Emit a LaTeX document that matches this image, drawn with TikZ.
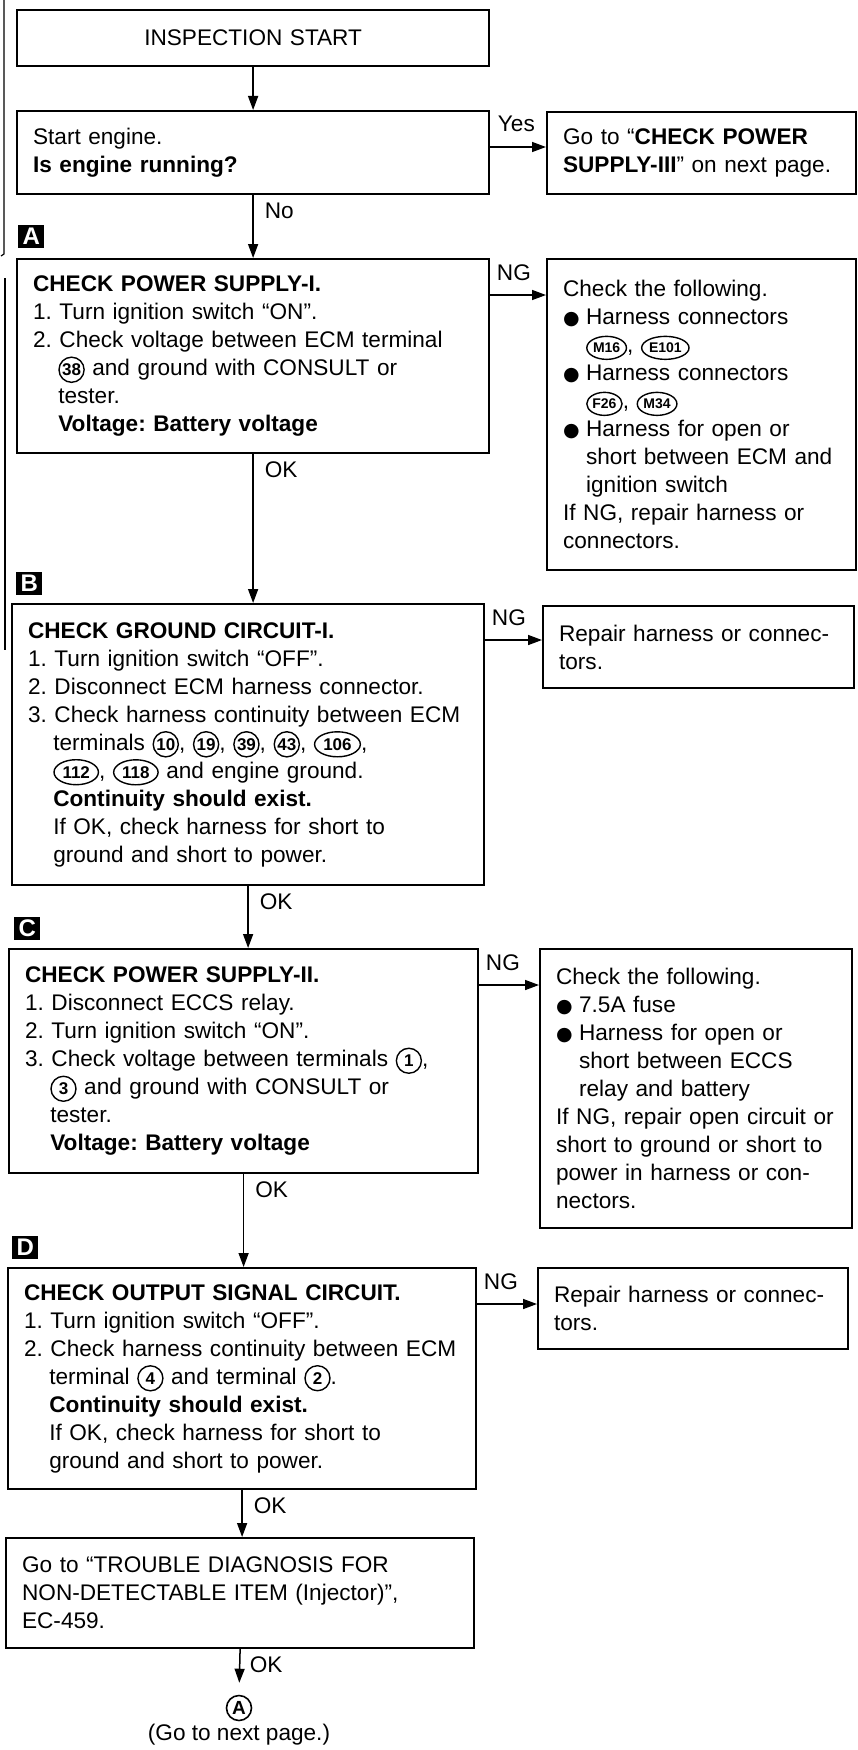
\documentclass[tikz,border=0pt]{standalone}
\usepackage{fontspec}
\setmainfont{Liberation Sans}
\newfontfamily\bulletfont{DejaVu Sans}
\usetikzlibrary{positioning,arrows.meta,shapes.geometric}

\tikzset{
    cnum/.style={circle, draw, line width=0.7pt, inner sep=0.5pt, minimum width=12.5pt, minimum height=12.5pt, text width=, align=center, fill=none, font=\fontsize{8.5}{8.5}\selectfont\bfseries},
    coval/.style={cnum, ellipse, inner xsep=1pt, inner ysep=0.5pt, minimum width=0pt, minimum height=12.5pt},
    cconn/.style={coval, inner xsep=0.2pt, minimum height=11.5pt, font=\fontsize{7}{7}\selectfont\bfseries}
}
\newcommand{\cn}[1]{\tikz[baseline=(c.base)]\node[cnum](c){#1};}
\newcommand{\co}[1]{\tikz[baseline=(c.base)]\node[coval](c){#1};}
\newcommand{\cc}[1]{\tikz[baseline=(c.base)]\node[cconn](c){#1};}
\newcommand{\hang}{\hspace*{12.6pt}}
\newcommand{\bhang}{\hspace*{11.5pt}}
\newcommand{\blt}{\makebox[11.5pt][l]{\bulletfont\fontsize{9.5}{9}\selectfont ●}}
\frenchspacing

\begin{document}
\begin{tikzpicture}[
    x=0.5pt, y=-0.5pt,
    box/.style={draw, line width=1.1pt, anchor=north west, inner xsep=8pt, inner ysep=0pt, align=left, font=\fontsize{11.3}{14}\selectfont},
    tag/.style={fill=black, text=white, anchor=south west, inner sep=0pt, minimum width=13pt, minimum height=11.5pt, font=\bfseries\fontsize{12}{12}\selectfont},
    arr/.style={-{Triangle[length=7pt,width=5pt]}, line width=0.75pt},
    lab/.style={inner sep=0pt, anchor=base west, font=\fontsize{11.3}{14}\selectfont},
    endmark/.style={circle, draw, line width=0.8pt, minimum size=12.5pt, inner sep=0pt, font=\bfseries\fontsize{9.5}{9.5}\selectfont}
]
\useasboundingbox (0,0) rectangle (857,1750);

% edge of the scanned page
\draw[line width=0.6pt] (4,0) -- (4,254) -- (1,256);
\draw[line width=0.6pt] (5,278) -- (5,650);

% main column
\node[box, align=center, minimum width=236pt, minimum height=28pt, text width=220pt] (start) at (16,9) {INSPECTION START};
\node[box, minimum width=236pt, minimum height=41.5pt, text width=220pt] (run) at (16,110) {Start engine.\\\textbf{Is engine running?}};
\node[box, minimum width=236pt, minimum height=97pt, text width=220pt] (chkA) at (16,258) {\textbf{CHECK POWER SUPPLY-I.}\\
1. Turn ignition switch “ON”.\\
2. Check voltage between ECM terminal\\
\hang\cn{38} and ground with CONSULT or\\
\hang tester.\\
\hang\textbf{Voltage: Battery voltage}};
\node[box, minimum width=236pt, minimum height=140.5pt, text width=220pt] (chkB) at (11,603) {\textbf{CHECK GROUND CIRCUIT-I.}\\
1. Turn ignition switch “OFF”.\\
2. Disconnect ECM harness connector.\\
3. Check harness continuity between ECM\\
\hang terminals \cn{10}, \cn{19}, \cn{39}, \cn{43}, \co{106},\\
\hang\co{112}, \co{118} and engine ground.\\
\hang\textbf{Continuity should exist.}\\
\hang If OK, check harness for short to\\
\hang ground and short to power.};
\node[box, minimum width=234.5pt, minimum height=112pt, text width=218.5pt] (chkC) at (8,948) {\textbf{CHECK POWER SUPPLY-II.}\\
1. Disconnect ECCS relay.\\
2. Turn ignition switch “ON”.\\
3. Check voltage between terminals \cn{1},\\
\hang\cn{3} and ground with CONSULT or\\
\hang tester.\\
\hang\textbf{Voltage: Battery voltage}};
\node[box, minimum width=234pt, minimum height=110.5pt, text width=218pt] (chkD) at (7,1267) {\textbf{CHECK OUTPUT SIGNAL CIRCUIT.}\\
1. Turn ignition switch “OFF”.\\
2. Check harness continuity between ECM\\
\hang terminal \cn{4} and terminal \cn{2}.\\
\hang\textbf{Continuity should exist.}\\
\hang If OK, check harness for short to\\
\hang ground and short to power.};
\node[box, minimum width=234pt, minimum height=55pt, text width=218pt] (goinj) at (5,1537) {Go to “TROUBLE DIAGNOSIS FOR\\
NON-DETECTABLE ITEM (Injector)”,\\
EC-459.};
\node[endmark] (circA) at (239,1708) {A};
\node[lab, anchor=center] (nextpg) at (239,1735) {(Go to next page.)};

% step tags
\node[tag] (tagA) at ([xshift=1pt, yshift=5pt]chkA.north west) {A};
\node[tag] (tagB) at ([xshift=2.5pt, yshift=4pt]chkB.north west) {B};
\node[tag] (tagC) at ([xshift=3pt, yshift=4pt]chkC.north west) {C};
\node[tag] (tagD) at ([xshift=2.5pt, yshift=4pt]chkD.north west) {D};

% right column
\node[box, minimum width=154.5pt, minimum height=41pt, text width=138.5pt] (psIII) at (546,111) {Go to “\textbf{CHECK POWER}\\\textbf{SUPPLY-III}” on next page.};
\node[box, minimum width=154.5pt, minimum height=155.5pt, text width=138.5pt] (ngA) at (546,258) {Check the following.\\
\blt Harness connectors\\
\bhang\cc{M16}, \cc{E101}\\
\blt Harness connectors\\
\bhang\cc{F26}, \cc{M34}\\
\blt Harness for open or\\
\bhang short between ECM and\\
\bhang ignition switch\\
If NG, repair harness or\\
connectors.};
\node[box, minimum width=155.5pt, minimum height=41pt, text width=139.5pt] (ngB) at (542,605) {Repair harness or connec-\\tors.};
\node[box, minimum width=156pt, minimum height=139.5pt, text width=140pt] (ngC) at (539,948) {Check the following.\\
\blt 7.5A fuse\\
\blt Harness for open or\\
\bhang short between ECCS\\
\bhang relay and battery\\
If NG, repair open circuit or\\
short to ground or short to\\
power in harness or con-\\
nectors.};
\node[box, minimum width=155pt, minimum height=40.5pt, text width=139pt] (ngD) at (537,1267) {Repair harness or connec-\\tors.};

% vertical flow
\draw[arr] (start.south) -- (start.south |- run.north);
\draw[arr] (run.south) -- node[lab, pos=0, xshift=5.5pt, yshift=-11.5pt]{No} (run.south |- chkA.north);
\draw[arr] (chkA.south) -- node[lab, pos=0, xshift=5.5pt, yshift=-11.5pt]{OK} (chkA.south |- chkB.north);
\draw[arr] (chkB.south) -- node[lab, pos=0, xshift=5.5pt, yshift=-11.5pt]{OK} (chkB.south |- chkC.north);
\draw[arr] (chkC.south) -- node[lab, pos=0, xshift=5.5pt, yshift=-11.5pt]{OK} (chkC.south |- chkD.north);
\draw[arr] (chkD.south) -- node[lab, pos=0, xshift=5.5pt, yshift=-11.5pt]{OK} (chkD.south |- goinj.north);
\draw[arr, shorten >=6pt] (goinj.south) -- node[lab, pos=0, xshift=4.5pt, yshift=-11.5pt]{OK} (circA.north);

% side branches
\coordinate (outY) at ([yshift=-18.5pt]run.north east);
\coordinate (outA) at ([yshift=-18.5pt]chkA.north east);
\coordinate (outB) at ([yshift=-18.5pt]chkB.north east);
\coordinate (outC) at ([yshift=-18.5pt]chkC.north east);
\coordinate (outD) at ([yshift=-18.5pt]chkD.north east);
\draw[arr] (outY) -- node[lab, pos=0, xshift=3.5pt, yshift=7.5pt]{Yes} (outY -| psIII.west);
\draw[arr] (outA) -- node[lab, pos=0, xshift=3pt, yshift=7.5pt]{NG} (outA -| ngA.west);
\draw[arr] (outB) -- node[lab, pos=0, xshift=3pt, yshift=7.5pt]{NG} (outB -| ngB.west);
\draw[arr] (outC) -- node[lab, pos=0, xshift=3pt, yshift=7.5pt]{NG} (outC -| ngC.west);
\draw[arr] (outD) -- node[lab, pos=0, xshift=3pt, yshift=7.5pt]{NG} (outD -| ngD.west);

\end{tikzpicture}
\end{document}
